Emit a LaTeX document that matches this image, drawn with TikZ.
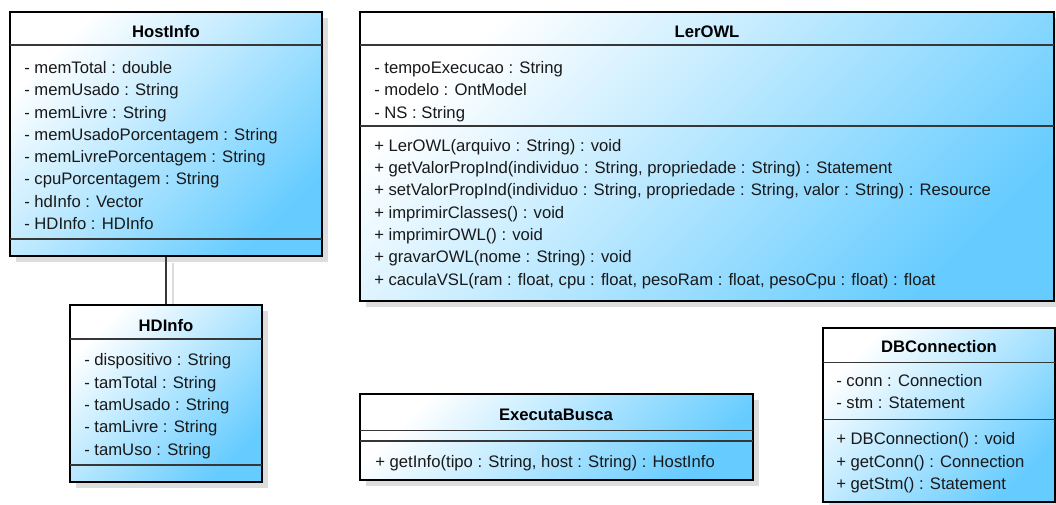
\documentclass[tikz,border=0pt]{standalone}
\usepackage{fontspec}
\setmainfont{Liberation Sans}
\usetikzlibrary{positioning,fit,shadows,backgrounds}
\definecolor{azulclasse}{RGB}{102,204,255}
\definecolor{sombraclasse}{RGB}{221,221,221}
\definecolor{cinzalinha}{RGB}{55,55,55}
\definecolor{textoclasse}{RGB}{25,25,25}

\begin{document}
\begin{tikzpicture}[
  x=0.75pt, y=-0.75pt,
  classe/.style={draw=black, line width=2.2pt, inner sep=0pt,
                 top color=white, bottom color=azulclasse, shading angle=45,
                 drop shadow={shadow xshift=4.5pt, shadow yshift=-4.5pt,
                              fill=sombraclasse, opacity=1}},
  titulo/.style={font=\fontsize{12.5}{16.7}\selectfont\bfseries,
                 text=black, anchor=base, inner sep=0pt},
  lista/.style={font=\fontsize{12.5}{16.7}\selectfont, text=textoclasse,
                anchor=base west, align=left, inner sep=0pt},
  divisor/.style={draw=cinzalinha, line width=1.1pt},
  ligacao/.style={draw=cinzalinha, line width=1.5pt},
  sombralinha/.style={draw=sombraclasse, line width=1.5pt},
]
\useasboundingbox (0,0) rectangle (1056,504);
% listas: o ponto dado e a linha de base da ultima linha
% --- Classe HostInfo ---------------------------------------------------------
\node[classe, fit={(10,12) (322,256)}] (hostinfo) {};
\node[titulo] (hostinfo-nome) at (166,37) {HostInfo};
\draw[divisor] (10,45) -- (322,45);
\draw[divisor] (10,239) -- (322,239);
\node[lista] (hostinfo-atributos) at (24,229.5)
  {- memTotal : double\\
   - memUsado : String\\
   - memLivre : String\\
   - memUsadoPorcentagem : String\\
   - memLivrePorcentagem : String\\
   - cpuPorcentagem : String\\
   - hdInfo : Vector\\
   - HDInfo : HDInfo};
% --- Classe HDInfo -----------------------------------------------------------
\node[classe, fit={(70,305) (262,482)}] (hdinfo) {};
\node[titulo] (hdinfo-nome) at (166,331) {HDInfo};
\draw[divisor] (70,339) -- (262,339);
\draw[divisor] (70,465) -- (262,465);
\node[lista] (hdinfo-atributos) at (84,455)
  {- dispositivo : String\\
   - tamTotal : String\\
   - tamUsado : String\\
   - tamLivre : String\\
   - tamUso : String};
% --- Classe LerOWL -----------------------------------------------------------
\node[classe, fit={(360,12) (1054,301)}] (lerowl) {};
\node[titulo] (lerowl-nome) at (707,37) {LerOWL};
\draw[divisor] (360,45) -- (1054,45);
\draw[divisor] (360,126) -- (1054,126);
\node[lista] (lerowl-atributos) at (374,118)
  {- tempoExecucao : String\\
   - modelo : OntModel\\
   - NS : String};
\node[lista] (lerowl-metodos) at (374,285)
  {+ LerOWL(arquivo : String) : void\\
   + getValorPropInd(individuo : String, propriedade : String) : Statement\\
   + setValorPropInd(individuo : String, propriedade : String, valor : String) : Resource\\
   + imprimirClasses() : void\\
   + imprimirOWL() : void\\
   + gravarOWL(nome : String) : void\\
   + caculaVSL(ram : float, cpu : float, pesoRam : float, pesoCpu : float) : float};
% --- Classe ExecutaBusca -----------------------------------------------------
\node[classe, fit={(360,394) (753,480)}] (executabusca) {};
\node[titulo] (executabusca-nome) at (556,420.5) {ExecutaBusca};
\draw[divisor] (360,430.5) -- (753,430.5);
\draw[divisor] (360,441) -- (753,441);
\node[lista] (executabusca-metodos) at (375,467.3)
  {+ getInfo(tipo : String, host : String) : HostInfo};
% --- Classe DBConnection -----------------------------------------------------
\node[classe, fit={(823,328) (1055,502)}] (dbconnection) {};
\node[titulo] (dbconnection-nome) at (939,352.3) {DBConnection};
\draw[divisor] (823,362.7) -- (1055,362.7);
\draw[divisor] (823,419.3) -- (1055,419.3);
\node[lista] (dbconnection-atributos) at (836,408.5)
  {- conn : Connection\\
   - stm : Statement};
\node[lista] (dbconnection-metodos) at (836,489.5)
  {+ DBConnection() : void\\
   + getConn() : Connection\\
   + getStm() : Statement};
% --- Associacao HostInfo -- HDInfo -------------------------------------------
\begin{scope}[on background layer]
  \draw[sombralinha] ([shift={(7,6)}]hostinfo.south)
    -- ([shift={(7,6)}]hdinfo.north);
\end{scope}
\draw[ligacao] (hostinfo.south) -- (hdinfo.north);
\end{tikzpicture}
\end{document}
